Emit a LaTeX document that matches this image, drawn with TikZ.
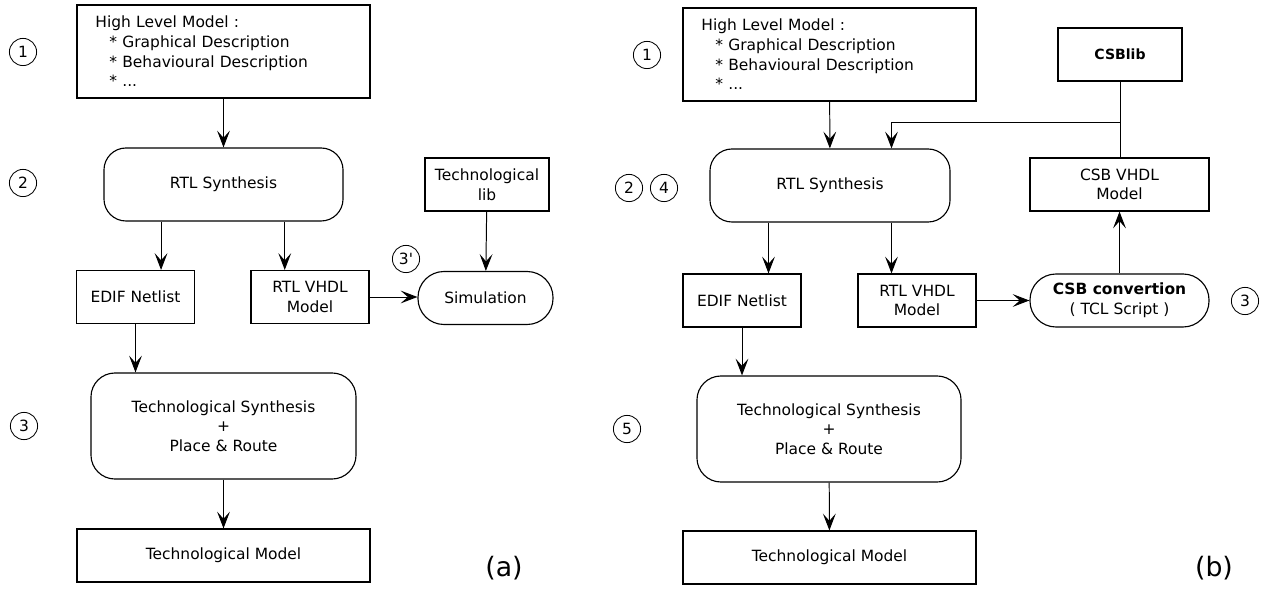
\documentclass[tikz,border=0pt]{standalone}
\usepackage{fontspec}
\setmainfont{DejaVu Sans}
\usetikzlibrary{positioning,calc,arrows.meta}

\begin{document}
\begin{tikzpicture}[
    x=0.025cm, y=-0.025cm,
    font=\fontsize{11pt}{14pt}\selectfont,
    box/.style={rectangle, draw, line width=0.8pt, inner sep=0pt, align=center},
    modelbox/.style={box, minimum width=7.325cm, minimum height=2.325cm},
    filebox/.style={box, minimum width=2.95cm, minimum height=1.325cm},
    proc/.style={box, rounded corners=0.55cm},
    pill/.style={box, rounded corners=0.65cm, minimum height=1.325cm},
    num/.style={circle, draw, line width=0.6pt, minimum size=0.68cm, inner sep=0pt, font=\fontsize{11pt}{13pt}\selectfont},
    tag/.style={font=\fontsize{19pt}{22pt}\selectfont},
    arrow/.style={-{Stealth[length=4.2mm,width=3.2mm,inset=1.8mm]}, line width=0.7pt},
    link/.style={line width=0.7pt}
]
\useasboundingbox (0,0) rectangle (1268,589);

% (a)
\node[modelbox, text width=6.4cm, align=left] (hlA) at (223.5,51.5) {
    High Level Model :\\
    \hspace*{0.35cm}* Graphical Description\\
    \hspace*{0.35cm}* Behavioural Description\\
    \hspace*{0.35cm}* ...
};
\node[proc, minimum width=5.975cm, minimum height=1.825cm] (rtlA) at (223.5,184.5) {RTL Synthesis};
\node[box, minimum width=3.1cm, minimum height=1.325cm] (techlibA) at (487,184.5) {Technological\\lib};
\node[filebox] (edifA) at (135.5,297) {EDIF Netlist};
\node[filebox] (vhdlA) at (310,297) {RTL VHDL\\Model};
\node[pill, minimum width=3.375cm] (simA) at (485.5,298) {Simulation};
\node[proc, rounded corners=0.6cm, minimum width=6.625cm, minimum height=2.65cm] (tsA) at (223.5,426) {Technological Synthesis\\+\\Place \& Route};
\node[modelbox, minimum height=1.325cm] (tmA) at (223.5,555.5) {Technological Model};

\node[num] (n1a) at (23,52) {1};
\node[num] (n2a) at (23,183) {2};
\node[num] (n3pa) at (406,259) {3\textquotesingle};
\node[num] (n3a) at (24,426) {3};
\node[tag] (taga) at (504,568) {(a)};

\coordinate (ea) at ($(rtlA.south west)!0.24!(rtlA.south east)$);
\coordinate (va) at ($(rtlA.south west)!0.755!(rtlA.south east)$);
\draw[arrow] (hlA) -- (rtlA);
\draw[arrow] (ea) -- (ea |- edifA.north);
\draw[arrow] (va) -- (va |- vhdlA.north);
\draw[arrow] (techlibA) -- (simA);
\draw[arrow] (vhdlA.east) -- (vhdlA.east -| simA.west);
\draw[arrow] (edifA.south) -- (edifA.south |- tsA.north);
\draw[arrow] (tsA) -- (tmA);

% (b)
\node[modelbox, text width=6.4cm, align=left] (hlB) at (829.5,54.5) {
    High Level Model :\\
    \hspace*{0.35cm}* Graphical Description\\
    \hspace*{0.35cm}* Behavioural Description\\
    \hspace*{0.35cm}* ...
};
\node[box, minimum width=3.1cm, minimum height=1.325cm, font=\bfseries] (csblib) at (1120,54.5) {CSBlib};
\node[proc, minimum width=6cm, minimum height=1.825cm] (rtlB) at (830,185.5) {RTL Synthesis};
\node[box, minimum width=4.475cm, minimum height=1.325cm] (csbvhdl) at (1119.5,184.5) {CSB VHDL\\Model};
\node[filebox] (edifB) at (742,300.5) {EDIF Netlist};
\node[filebox] (vhdlB) at (917,300.5) {RTL VHDL\\Model};
\node[pill, minimum width=4.475cm] (csbconv) at (1119.5,300.5) {\textbf{CSB convertion}\\( TCL Script )};
\node[proc, rounded corners=0.6cm, minimum width=6.6cm, minimum height=2.65cm] (tsB) at (829,429) {Technological Synthesis\\+\\Place \& Route};
\node[modelbox, minimum height=1.325cm] (tmB) at (829.5,557.5) {Technological Model};

\node[num] (n1b) at (647,55) {1};
\node[num] (n2b) at (629,188) {2};
\node[num] (n4b) at (664,188) {4};
\node[num] (n3b) at (1245,301) {3};
\node[num] (n5b) at (627,429) {5};
\node[tag] (tagb) at (1214,568) {(b)};

\coordinate (eb) at ($(rtlB.south west)!0.245!(rtlB.south east)$);
\coordinate (vb) at ($(rtlB.south west)!0.755!(rtlB.south east)$);
\coordinate (fb) at ($(rtlB.north west)!0.755!(rtlB.north east)$);
\coordinate (jb) at ($(csblib.south)!0.54!(csblib.south |- csbvhdl.north)$);
\draw[arrow] (hlB) -- (rtlB);
\draw[link] (csblib.south) -- (csblib.south |- csbvhdl.north);
\draw[arrow] (jb) -| (fb);
\draw[arrow] (eb) -- (eb |- edifB.north);
\draw[arrow] (vb) -- (vb |- vhdlB.north);
\draw[arrow] (vhdlB.east) -- (vhdlB.east -| csbconv.west);
\draw[arrow] (csbconv) -- (csbvhdl);
\draw[arrow] (edifB.south) -- (edifB.south |- tsB.north);
\draw[arrow] (tsB) -- (tmB);

\end{tikzpicture}
\end{document}
